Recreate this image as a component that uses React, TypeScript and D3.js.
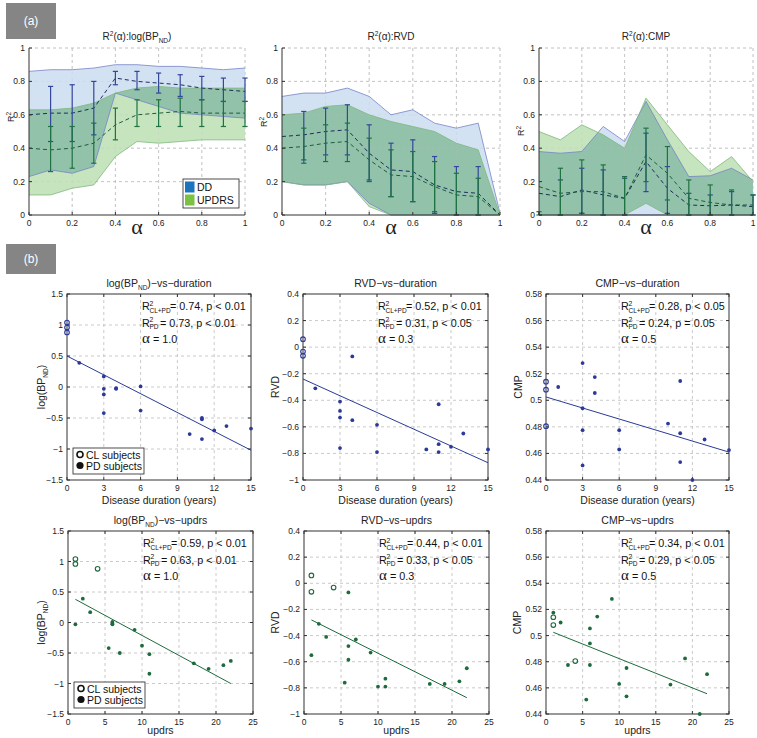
import React from "react";
import * as d3 from "d3";

const W = 757;
const H = 738;
const FONT = "'Liberation Sans', Arial, Helvetica, sans-serif";
const SERIF = "'Liberation Serif', 'DejaVu Serif', serif";

// ---------- Panel (a): R^2 as a function of alpha ----------
const alphaGrid = [0, 0.1, 0.2, 0.3, 0.4, 0.5, 0.6, 0.7, 0.8, 0.9, 1];
const alphaTicks = [0, 0.2, 0.4, 0.6, 0.8, 1];
const r2Ticks = [0, 0.2, 0.4, 0.6, 0.8, 1];

// log(BP_ND)
const bpDDUpper = [0.86, 0.87, 0.87, 0.88, 0.9, 0.9, 0.89, 0.89, 0.88, 0.87, 0.88];
const bpDDLower = [0.23, 0.27, 0.25, 0.29, 0.73, 0.69, 0.65, 0.61, 0.6, 0.59, 0.58];
const bpDDMean = [0.6, 0.61, 0.61, 0.64, 0.82, 0.8, 0.79, 0.78, 0.76, 0.75, 0.74];
const bpDDErrLo = [0.6, 0.44, 0.44, 0.48, 0.78, 0.75, 0.73, 0.71, 0.69, 0.68, 0.68];
const bpDDErrHi = [0.6, 0.77, 0.78, 0.8, 0.86, 0.86, 0.85, 0.84, 0.83, 0.82, 0.82];
const bpUPUpper = [0.63, 0.63, 0.64, 0.67, 0.73, 0.76, 0.77, 0.76, 0.76, 0.76, 0.76];
const bpUPLower = [0.12, 0.12, 0.16, 0.18, 0.35, 0.44, 0.43, 0.44, 0.45, 0.45, 0.45];
const bpUPMean = [0.4, 0.39, 0.4, 0.43, 0.54, 0.6, 0.61, 0.62, 0.61, 0.61, 0.61];
const bpUPErrLo = [0.4, 0.26, 0.28, 0.31, 0.45, 0.53, 0.53, 0.53, 0.53, 0.53, 0.53];
const bpUPErrHi = [0.4, 0.53, 0.53, 0.55, 0.64, 0.69, 0.69, 0.7, 0.69, 0.68, 0.68];

// RVD
const rvDDUpper = [0.71, 0.73, 0.73, 0.76, 0.71, 0.6, 0.63, 0.55, 0.52, 0.55, 0.01];
const rvDDLower = [0.2, 0.18, 0.18, 0.2, 0.07, 0, 0, 0, 0, 0, 0];
const rvDDMean = [0.47, 0.48, 0.5, 0.51, 0.37, 0.27, 0.26, 0.18, 0.14, 0.13, 0];
const rvDDErrLo = [0.47, 0.33, 0.36, 0.36, 0.21, 0.11, 0.08, 0.01, 0, 0, 0];
const rvDDErrHi = [0.47, 0.62, 0.64, 0.66, 0.54, 0.43, 0.45, 0.35, 0.29, 0.29, 0];
const rvUPUpper = [0.6, 0.61, 0.65, 0.66, 0.6, 0.56, 0.53, 0.5, 0.43, 0.39, 0];
const rvUPLower = [0.2, 0.18, 0.18, 0.2, 0.05, 0, 0, 0, 0, 0, 0];
const rvUPMean = [0.4, 0.41, 0.43, 0.44, 0.33, 0.24, 0.23, 0.17, 0.12, 0.11, 0];
const rvUPErrLo = [0.4, 0.31, 0.32, 0.32, 0.2, 0.11, 0.08, 0.02, 0, 0, 0];
const rvUPErrHi = [0.4, 0.52, 0.54, 0.55, 0.46, 0.39, 0.38, 0.32, 0.25, 0.22, 0];

// CMP
const cmDDUpper = [0.38, 0.37, 0.38, 0.53, 0.44, 0.68, 0.45, 0.23, 0.235, 0.28, 0.21];
const cmDDLower = [0, 0, 0, 0, 0, 0, 0, 0, 0, 0, 0];
const cmDDMean = [0.13, 0.11, 0.15, 0.12, 0.1, 0.32, 0.16, 0.06, 0.055, 0.06, 0.05];
const cmDDErrLo = [0.13, 0, 0.01, 0, 0, 0.14, 0.01, 0, 0, 0, 0];
const cmDDErrHi = [0.13, 0.21, 0.28, 0.27, 0.22, 0.49, 0.29, 0.13, 0.12, 0.14, 0.12];
const cmUPUpper = [0.5, 0.45, 0.54, 0.48, 0.4, 0.7, 0.54, 0.38, 0.26, 0.35, 0.2];
const cmUPLower = [0, 0, 0, 0, 0, 0.07, 0, 0, 0, 0, 0];
const cmUPMean = [0.17, 0.13, 0.14, 0.14, 0.1, 0.36, 0.25, 0.1, 0.075, 0.06, 0.06];
const cmUPErrLo = [0, 0, 0.01, 0, 0, 0.2, 0.09, 0, 0, 0, 0];
const cmUPErrHi = [0.02, 0.28, 0.33, 0.3, 0.23, 0.52, 0.41, 0.21, 0.18, 0.15, 0.12];

const legendLabels = ["DD", "UPDRS"];

// ---------- Panel (b): scatter plots ----------
const pdDuration = [1, 3, 3, 3, 3, 4, 4, 6, 6, 10, 11, 11, 11, 12, 13, 15];
const pdUpdrs = [2, 3, 6, 9, 5.5, 6, 1, 6, 10, 19, 7, 11, 11, 21, 22, 17];
const pdLogBP = [0.39, 0.17, -0.03, -0.12, -0.42, -0.02, -0.03, 0.01, -0.38, -0.76, -0.5, -0.52, -0.84, -0.7, -0.63, -0.67];
const pdRVD = [-0.31, -0.41, -0.48, -0.53, -0.76, -0.07, -0.55, -0.585, -0.79, -0.77, -0.43, -0.73, -0.79, -0.75, -0.65, -0.77];
const pdCMP = [0.51, 0.4775, 0.494, 0.528, 0.451, 0.5055, 0.5175, 0.4775, 0.463, 0.4825, 0.5145, 0.4752, 0.4535, 0.44, 0.4705, 0.4625];

const clDuration = [0, 0, 0];
const clUpdrs = [1, 1, 4];
const clLogBP = [1.04, 0.96, 0.88];
const clRVD = [0.06, -0.065, -0.033];
const clCMP = [0.514, 0.508, 0.4805];

const durFitX = [0, 15];
const updFitX = [1, 22];
const durFitLog = [0.5, -1.02];
const durFitRVD = [-0.24, -0.87];
const durFitCMP = [0.5025, 0.461];
const updFitLog = [0.38, -1.0];
const updFitRVD = [-0.28, -0.875];
const updFitCMP = [0.5025, 0.4555];

const durTicks = [0, 3, 6, 9, 12, 15];
const updTicks = [0, 5, 10, 15, 20, 25];
const logTicks = [-1.5, -1, -0.5, 0, 0.5, 1, 1.5];
const rvdTicks = [-1, -0.8, -0.6, -0.4, -0.2, 0, 0.2, 0.4];
const cmpTicks = [0.44, 0.46, 0.48, 0.5, 0.52, 0.54, 0.56, 0.58];

const r2AllDur = ["0.74", "0.52", "0.28"];
const pAllDur = ["p < 0.01", "p < 0.01", "p < 0.05"];
const r2PdDur = ["0.73", "0.31", "0.24"];
const pPdDur = ["p < 0.01", "p < 0.05", "p = 0.05"];
const r2AllUpd = ["0.59", "0.44", "0.34"];
const pAllUpd = ["p < 0.01", "p < 0.01", "p < 0.01"];
const r2PdUpd = ["0.63", "0.33", "0.29"];
const pPdUpd = ["p < 0.01", "p < 0.05", "p < 0.05"];
const alphaBest = ["1.0", "0.3", "0.5"];
const subjectLabels = ["CL subjects", "PD subjects"];

const fmt = (v: number) => d3.format("~g")(+v.toFixed(3));

const GRID = "#bdbdbd";
const AXIS = "#333";
const BLUE_FILL = "#d3e2f3";
const GREEN_FILL = "#c6e4bd";
const OVERLAP_FILL = "#92c3aa";

// ---------- components ----------
type Series = { upper: number[]; lower: number[]; mean: number[]; lo: number[]; hi: number[] };

function RPanel(props: {
  id: string; l: number; r: number; title: React.ReactNode; ylabY: number; dd: Series; up: Series; legend?: boolean;
}) {
  const { l, r, dd, up, id } = props;
  const t = 48, b = 215;
  const x = d3.scaleLinear([0, 1], [l, r]);
  const y = d3.scaleLinear([0, 1], [b, t]);
  const area = (lo: number[], hi: number[]) =>
    d3.area<number>().x((_, i) => x(alphaGrid[i])).y0((_, i) => y(lo[i])).y1((d) => y(d))(hi) || "";
  const line = (v: number[]) => d3.line<number>().x((_, i) => x(alphaGrid[i])).y((d) => y(d))(v) || "";
  const bars = (s: Series, color: string) =>
    alphaGrid.map((a, i) =>
      s.hi[i] - s.lo[i] > 0.001 ? (
        <g key={i} stroke={color} strokeWidth={1.2}>
          <line x1={x(a)} x2={x(a)} y1={y(s.lo[i])} y2={y(s.hi[i])} />
          <line x1={x(a) - 2.6} x2={x(a) + 2.6} y1={y(s.lo[i])} y2={y(s.lo[i])} />
          <line x1={x(a) - 2.6} x2={x(a) + 2.6} y1={y(s.hi[i])} y2={y(s.hi[i])} />
        </g>
      ) : null
    );
  const ddArea = area(dd.lower, dd.upper);
  const upArea = area(up.lower, up.upper);
  const grid = (op: number) => (
    <g opacity={op}>
      {alphaTicks.filter((v) => v > 0).map((v) => (
        <line key={"gx" + v} x1={x(v)} x2={x(v)} y1={t} y2={b} stroke={GRID} strokeDasharray="3,3" strokeWidth={0.8} />
      ))}
      {r2Ticks.filter((v) => v > 0).map((v) => (
        <line key={"gy" + v} x1={l} x2={r} y1={y(v)} y2={y(v)} stroke={GRID} strokeDasharray="3,3" strokeWidth={0.8} />
      ))}
    </g>
  );
  return (
    <g>
      <defs>
        <clipPath id={"clip-dd-" + id}>
          <path d={ddArea} />
        </clipPath>
      </defs>
      {grid(1)}
      {/* bands */}
      <path d={ddArea} fill={BLUE_FILL} />
      <path d={upArea} fill={GREEN_FILL} />
      <path d={upArea} fill={OVERLAP_FILL} clipPath={`url(#clip-dd-${id})`} />
      {grid(0.3)}
      <path d={line(dd.upper)} fill="none" stroke="#7683c6" strokeWidth={0.8} />
      <path d={line(dd.lower)} fill="none" stroke="#7683c6" strokeWidth={0.8} />
      <path d={line(up.upper)} fill="none" stroke="#80b882" strokeWidth={0.8} />
      <path d={line(up.lower)} fill="none" stroke="#80b882" strokeWidth={0.8} />
      {/* means */}
      <path d={line(dd.mean)} fill="none" stroke="#1d2c5c" strokeWidth={1} strokeDasharray="4,3" />
      <path d={line(up.mean)} fill="none" stroke="#1c5c3a" strokeWidth={1} strokeDasharray="4,3" />
      {bars(dd, "#34479a")}
      {bars(up, "#1f7242")}
      {/* axes */}
      <line x1={l} x2={l} y1={t} y2={b} stroke={AXIS} strokeWidth={1} />
      <line x1={l} x2={r} y1={b} y2={b} stroke={AXIS} strokeWidth={1} />
      {alphaTicks.map((v) => (
        <g key={"tx" + v}>
          <line x1={x(v)} x2={x(v)} y1={b} y2={b - 3} stroke={AXIS} />
          <text x={x(v)} y={b + 11} fontSize={8.5} textAnchor="middle" fill="#222">{fmt(v)}</text>
        </g>
      ))}
      {r2Ticks.map((v) => (
        <g key={"ty" + v}>
          <line x1={l} x2={l + 3} y1={y(v)} y2={y(v)} stroke={AXIS} />
          <text x={l - 4} y={y(v) + 3} fontSize={8.5} textAnchor="end" fill="#222">{fmt(v)}</text>
        </g>
      ))}
      <text x={(l + r) / 2} y={40} fontSize={10} textAnchor="middle" fill="#222">{props.title}</text>
      <text transform={`translate(${l - 15},${props.ylabY}) rotate(-90)`} fontSize={9} textAnchor="middle" fill="#222">
        R<tspan dy={-3.5} fontSize={6.5}>2</tspan>
      </text>
      <text x={(l + r) / 2} y={234} fontSize={22} fontFamily={SERIF} textAnchor="middle" fill="#222">α</text>
      {props.legend ? (
        <g>
          <rect x={183} y={179} width={56} height={29} fill="#fff" stroke="#222" strokeWidth={0.8} />
          <rect x={185} y={181.5} width={9.5} height={11} fill="#1c75bc" />
          <rect x={185} y={194.5} width={9.5} height={11} fill="#7cc242" />
          <text x={197} y={191} fontSize={10.5} fill="#111">{legendLabels[0]}</text>
          <text x={197} y={204} fontSize={10.5} fill="#111">{legendLabels[1]}</text>
        </g>
      ) : null}
    </g>
  );
}

function Scatter(props: {
  l: number; r: number; t: number; b: number;
  xDom: number[]; xTicks: number[]; yDom: number[]; yTicks: number[];
  color: string; pdX: number[]; pdY: number[]; clX: number[]; clY: number[];
  fitX: number[]; fitY: number[];
  title: React.ReactNode; ylabel: React.ReactNode; xlabel: string; xlabOff: number;
  r2All: string; pAll: string; r2Pd: string; pPd: string; alpha: string;
  legend?: boolean; ylabX: number;
}) {
  const { l, r, t, b, color } = props;
  const x = d3.scaleLinear(props.xDom, [l, r]);
  const y = d3.scaleLinear(props.yDom, [b, t]);
  const ax = l + 75;
  const ay = t + 16;
  return (
    <g>
      {props.xTicks.slice(1, -1).map((v) => (
        <line key={"gx" + v} x1={x(v)} x2={x(v)} y1={t} y2={b} stroke={GRID} strokeDasharray="3,3" strokeWidth={0.8} />
      ))}
      {props.yTicks.slice(1, -1).map((v) => (
        <line key={"gy" + v} x1={l} x2={r} y1={y(v)} y2={y(v)} stroke={GRID} strokeDasharray="3,3" strokeWidth={0.8} />
      ))}
      <rect x={l} y={t} width={r - l} height={b - t} fill="none" stroke={AXIS} strokeWidth={1} />
      {props.xTicks.map((v) => (
        <g key={"tx" + v}>
          <line x1={x(v)} x2={x(v)} y1={b} y2={b - 3} stroke={AXIS} />
          <line x1={x(v)} x2={x(v)} y1={t} y2={t + 3} stroke={AXIS} />
          <text x={x(v)} y={b + 11} fontSize={8.5} textAnchor="middle" fill="#222">{fmt(v)}</text>
        </g>
      ))}
      {props.yTicks.map((v) => (
        <g key={"ty" + v}>
          <line x1={l} x2={l + 3} y1={y(v)} y2={y(v)} stroke={AXIS} />
          <line x1={r} x2={r - 3} y1={y(v)} y2={y(v)} stroke={AXIS} />
          <text x={l - 4} y={y(v) + 3} fontSize={8.5} textAnchor="end" fill="#222">{fmt(v)}</text>
        </g>
      ))}
      {/* fit line */}
      <line x1={x(props.fitX[0])} x2={x(props.fitX[1])} y1={y(props.fitY[0])} y2={y(props.fitY[1])} stroke={color} strokeWidth={1} />
      {props.pdX.map((v, i) => (
        <circle key={"pd" + i} cx={x(v)} cy={y(props.pdY[i])} r={1.9} fill={color} />
      ))}
      {props.clX.map((v, i) => (
        <circle key={"cl" + i} cx={x(v)} cy={y(props.clY[i])} r={2.3} fill="none" stroke={color} strokeWidth={1.1} />
      ))}
      {/* annotation */}
      <g fill="#111">
        <text x={ax} y={ay} fontSize={10.8}>R</text>
        <text x={ax + 7.5} y={ay - 4.5} fontSize={6.8}>2</text>
        <text x={ax + 7.5} y={ay + 2.5} fontSize={6.5}>CL+PD</text>
        <text x={ax + 28} y={ay} fontSize={10.8}>{`= ${props.r2All}, ${props.pAll}`}</text>
        <text x={ax} y={ay + 16.5} fontSize={10.8}>R</text>
        <text x={ax + 7.5} y={ay + 12} fontSize={6.8}>2</text>
        <text x={ax + 7.5} y={ay + 19} fontSize={6.5}>PD</text>
        <text x={ax + 18} y={ay + 16.5} fontSize={10.8}>{`= ${props.r2Pd}, ${props.pPd}`}</text>
        <text x={ax} y={ay + 32.5} fontSize={15} fontFamily={SERIF}>α</text>
        <text x={ax + 11} y={ay + 32.5} fontSize={10.8}>{`= ${props.alpha}`}</text>
      </g>
      <text x={(l + r) / 2} y={t - 7} fontSize={10.5} textAnchor="middle" fill="#222">{props.title}</text>
      <text x={(l + r) / 2} y={b + props.xlabOff} fontSize={10.5} textAnchor="middle" fill="#222">{props.xlabel}</text>
      <text transform={`translate(${props.ylabX},${(t + b) / 2}) rotate(-90)`} fontSize={10.5} textAnchor="middle" fill="#222">
        {props.ylabel}
      </text>
      {props.legend ? (
        <g>
          <rect x={l + 6} y={b - 32} width={71} height={26} fill="#fff" stroke="#222" strokeWidth={0.8} />
          <circle cx={l + 13} cy={b - 25.5} r={3} fill="none" stroke="#111" strokeWidth={1.6} />
          <circle cx={l + 13} cy={b - 14.5} r={3.6} fill="#111" />
          <text x={l + 19} y={b - 21.5} fontSize={10.5} fill="#111">{subjectLabels[0]}</text>
          <text x={l + 19} y={b - 10.5} fontSize={10.5} fill="#111">{subjectLabels[1]}</text>
        </g>
      ) : null}
    </g>
  );
}

const bpLabel = (
  <>
    log(BP<tspan dy={2.5} fontSize={6.5}>ND</tspan><tspan dy={-2.5}>)</tspan>
  </>
);

function App() {
  const dur = [
    { l: 67, r: 251, yDom: [-1.5, 1.5], yTicks: logTicks, pdY: pdLogBP, clY: clLogBP, fit: durFitLog, name: "log", ylabX: 45 },
    { l: 303, r: 488, yDom: [-1, 0.4], yTicks: rvdTicks, pdY: pdRVD, clY: clRVD, fit: durFitRVD, name: "RVD", ylabX: 279 },
    { l: 546, r: 729, yDom: [0.44, 0.58], yTicks: cmpTicks, pdY: pdCMP, clY: clCMP, fit: durFitCMP, name: "CMP", ylabX: 522 },
  ];
  const upd = [
    { l: 68, r: 253, yDom: [-1.5, 1.5], yTicks: logTicks, pdY: pdLogBP, clY: clLogBP, fit: updFitLog, name: "log", ylabX: 45 },
    { l: 304, r: 489, yDom: [-1, 0.4], yTicks: rvdTicks, pdY: pdRVD, clY: clRVD, fit: updFitRVD, name: "RVD", ylabX: 279 },
    { l: 546, r: 729, yDom: [0.44, 0.58], yTicks: cmpTicks, pdY: pdCMP, clY: clCMP, fit: updFitCMP, name: "CMP", ylabX: 521 },
  ];
  const titleOf = (name: string, suffix: string) =>
    name === "log" ? (
      <>
        log(BP<tspan dy={2.5} fontSize={6.5}>ND</tspan><tspan dy={-2.5}>)−vs−{suffix}</tspan>
      </>
    ) : (
      `${name}−vs−${suffix}`
    );
  const ylabOf = (name: string) => (name === "log" ? bpLabel : name);

  return (
    <svg width={W} height={H} style={{ position: "absolute", left: 0, top: 0, background: "#fff" }} fontFamily={FONT}>
      <rect x={0} y={0} width={W} height={H} fill="#fff" />
      {/* section labels */}
      <rect x={6} y={3} width={50} height={36} fill="#858585" />
      <text x={31} y={25} fontSize={12} fill="#fff" textAnchor="middle">(a)</text>
      <rect x={6} y={244} width={50} height={30} fill="#858585" />
      <text x={31} y={263} fontSize={12} fill="#fff" textAnchor="middle">(b)</text>

      <RPanel
        id="bp" l={29} r={245} ylabY={117} legend
        title={<>R<tspan dy={-4} fontSize={6.5}>2</tspan><tspan dy={4}>(α):log(BP</tspan><tspan dy={2.5} fontSize={6.5}>ND</tspan><tspan dy={-2.5}>)</tspan></>}
        dd={{ upper: bpDDUpper, lower: bpDDLower, mean: bpDDMean, lo: bpDDErrLo, hi: bpDDErrHi }}
        up={{ upper: bpUPUpper, lower: bpUPLower, mean: bpUPMean, lo: bpUPErrLo, hi: bpUPErrHi }}
      />
      <RPanel
        id="rv" l={282} r={500} ylabY={122}
        title={<>R<tspan dy={-4} fontSize={6.5}>2</tspan><tspan dy={4}>(α):RVD</tspan></>}
        dd={{ upper: rvDDUpper, lower: rvDDLower, mean: rvDDMean, lo: rvDDErrLo, hi: rvDDErrHi }}
        up={{ upper: rvUPUpper, lower: rvUPLower, mean: rvUPMean, lo: rvUPErrLo, hi: rvUPErrHi }}
      />
      <RPanel
        id="cm" l={539} r={753} ylabY={131}
        title={<>R<tspan dy={-4} fontSize={6.5}>2</tspan><tspan dy={4}>(α):CMP</tspan></>}
        dd={{ upper: cmDDUpper, lower: cmDDLower, mean: cmDDMean, lo: cmDDErrLo, hi: cmDDErrHi }}
        up={{ upper: cmUPUpper, lower: cmUPLower, mean: cmUPMean, lo: cmUPErrLo, hi: cmUPErrHi }}
      />

      {dur.map((p, i) => (
        <Scatter
          key={"d" + i}
          l={p.l} r={p.r} t={294} b={480}
          xDom={[0, 15]} xTicks={durTicks} yDom={p.yDom} yTicks={p.yTicks}
          color="#2b3a98" pdX={pdDuration} pdY={p.pdY} clX={clDuration} clY={p.clY}
          fitX={durFitX} fitY={p.fit}
          title={titleOf(p.name, "duration")} ylabel={ylabOf(p.name)} xlabel="Disease duration (years)" xlabOff={24}
          r2All={r2AllDur[i]} pAll={pAllDur[i]} r2Pd={r2PdDur[i]} pPd={pPdDur[i]} alpha={alphaBest[i]}
          legend={i === 0} ylabX={p.ylabX}
        />
      ))}
      {upd.map((p, i) => (
        <Scatter
          key={"u" + i}
          l={p.l} r={p.r} t={531} b={714}
          xDom={[0, 25]} xTicks={updTicks} yDom={p.yDom} yTicks={p.yTicks}
          color="#1d6b3c" pdX={pdUpdrs} pdY={p.pdY} clX={clUpdrs} clY={p.clY}
          fitX={updFitX} fitY={p.fit}
          title={titleOf(p.name, "updrs")} ylabel={ylabOf(p.name)} xlabel="updrs" xlabOff={20}
          r2All={r2AllUpd[i]} pAll={pAllUpd[i]} r2Pd={r2PdUpd[i]} pPd={pPdUpd[i]} alpha={alphaBest[i]}
          legend={i === 0} ylabX={p.ylabX}
        />
      ))}
    </svg>
  );
}

export default App;
